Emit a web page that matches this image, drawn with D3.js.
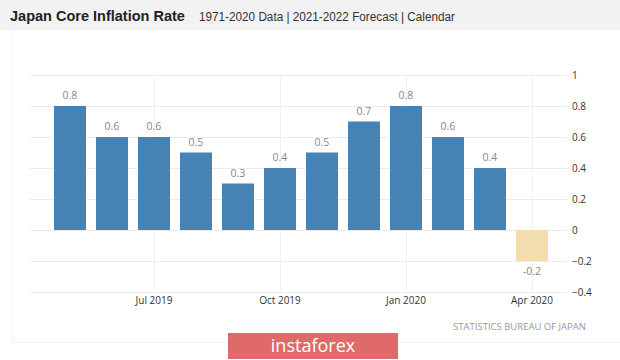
<!DOCTYPE html>
<html>
<head>
<meta charset="utf-8">
<script src="https://cdn.jsdelivr.net/npm/d3@7"></script>
<style>
  html, body { margin: 0; padding: 0; background: #fff; }
  svg { display: block; }
</style>
</head>
<body>
<svg id="chart" width="620" height="360"></svg>
<script>
const months = ["May 2019","Jun 2019","Jul 2019","Aug 2019","Sep 2019","Oct 2019","Nov 2019","Dec 2019","Jan 2020","Feb 2020","Mar 2020","Apr 2020"];
const values = [0.8, 0.6, 0.6, 0.5, 0.3, 0.4, 0.5, 0.7, 0.8, 0.6, 0.4, -0.2];
const forecast = [false,false,false,false,false,false,false,false,false,false,false,true];
const xTickLabels = ["Jul 2019","Oct 2019","Jan 2020","Apr 2020"];
const yTicks = [1, 0.8, 0.6, 0.4, 0.2, 0, -0.2, -0.4];
const titleText = "Japan Core Inflation Rate";
const subtitleText = "1971-2020 Data | 2021-2022 Forecast | Calendar";
const sourceText = "STATISTICS BUREAU OF JAPAN";
const watermarkText = "instaforex";

const svg = d3.select("#chart");

// header
svg.append("rect").attr("x",0).attr("y",0).attr("width",620).attr("height",30).attr("fill","#f2f2f2");
svg.append("text").attr("x",10).attr("y",21)
  .attr("font-family","Arial, 'Liberation Sans', sans-serif").attr("font-weight","bold")
  .attr("font-size",14.5).attr("fill","#222").text(titleText);
svg.append("text").attr("x",199).attr("y",21)
  .attr("font-family","'Liberation Sans Narrow', Arial, sans-serif")
  .attr("font-size",12.5).attr("fill","#333")
  .attr("textLength",256).attr("lengthAdjust","spacingAndGlyphs")
  .text(subtitleText);

// panel border
svg.append("path").attr("d","M12.5,30 V342.5 H620")
  .attr("fill","none").attr("stroke","#f3f3f3");

const y = d3.scaleLinear().domain([-0.4, 1]).range([292, 75]);
const x = d3.scaleBand().domain(months).range([33, 569]).paddingInner(10/42).paddingOuter(0.5);

// horizontal grid
svg.append("g").selectAll("line").data(yTicks).join("line")
  .attr("x1",30).attr("x2",567)
  .attr("y1",d=>Math.round(y(d))+0.5).attr("y2",d=>Math.round(y(d))+0.5)
  .attr("stroke","#ececec");

// vertical grid at labelled months
svg.append("g").selectAll("line").data(xTickLabels).join("line")
  .attr("x1",d=>Math.round(x(d)+x.bandwidth()/2)+0.5).attr("x2",d=>Math.round(x(d)+x.bandwidth()/2)+0.5)
  .attr("y1",y(1)).attr("y2",y(-0.4))
  .attr("stroke","#f0f0f0");

// bars
const data = months.map((m,i)=>({m, v: values[i], f: forecast[i]}));
svg.append("g").selectAll("rect").data(data).join("rect")
  .attr("x",d=>x(d.m)).attr("width",x.bandwidth())
  .attr("y",d=>y(Math.max(0,d.v))).attr("height",d=>Math.abs(y(d.v)-y(0)))
  .attr("fill",d=>d.f ? "#f3dcae" : "#4682b4");

// value labels
svg.append("g").selectAll("text").data(data).join("text")
  .attr("x",d=>x(d.m)+x.bandwidth()/2)
  .attr("y",d=> d.v>=0 ? y(d.v)-7 : y(d.v)+14)
  .attr("text-anchor","middle")
  .attr("font-family","'Open Sans', sans-serif").attr("font-size",10.5)
  .attr("fill","#888").text(d=>d.v);

// y axis (right)
const yAxis = d3.axisRight(y).tickValues(yTicks).tickSize(0).tickPadding(0).tickFormat(d=>d3.format("")(d));
const ga = svg.append("g").attr("transform","translate(572,0)").call(yAxis);
ga.select(".domain").remove();
ga.selectAll("text").attr("font-family","'Open Sans', sans-serif").attr("font-size",10).attr("fill","#333").attr("dy","0.32em");

// x axis
const xAxis = d3.axisBottom(x).tickValues(xTickLabels).tickSize(0).tickPadding(0);
const gx = svg.append("g").attr("transform","translate(0,297)").call(xAxis);
gx.select(".domain").remove();
gx.selectAll("text").attr("font-family","'Open Sans', sans-serif").attr("font-size",10).attr("fill","#333").attr("dy","0.71em");

// source
svg.append("text").attr("x",586).attr("y",330).attr("text-anchor","end")
  .attr("font-family","'Open Sans', sans-serif").attr("font-size",9.5).attr("fill","#999")
  .text(sourceText);

// watermark
svg.append("rect").attr("x",228).attr("y",333).attr("width",170).attr("height",26).attr("fill","#e06a6a");
svg.append("text").attr("x",313).attr("y",352).attr("text-anchor","middle")
  .attr("font-family","'Open Sans', sans-serif").attr("font-size",18).attr("fill","#fff")
  .text(watermarkText);
</script>
</body>
</html>
